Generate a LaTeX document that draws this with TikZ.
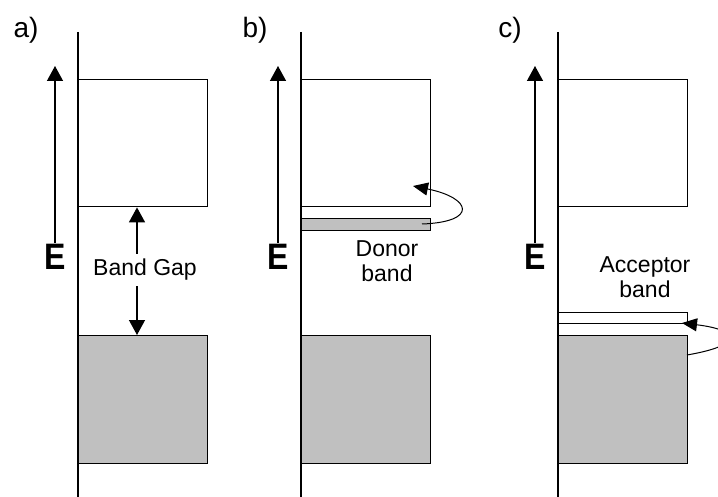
\documentclass[tikz,border=0pt]{standalone}
\usepackage{fontspec}
\setmainfont{Liberation Sans}
\usetikzlibrary{arrows.meta}
\definecolor{bandgray}{RGB}{192,192,192}
\begin{document}
\begin{tikzpicture}[x=1pt, y=-1pt, line width=1.4pt,
    band/.style={draw, minimum width=129pt, inner sep=0pt, anchor=north west},
    conduction/.style={band, minimum height=127pt},
    valence/.style={band, fill=bandgray, minimum height=128pt},
    label/.style={font=\fontsize{23}{25}\selectfont, align=center},
    tag/.style={font=\fontsize{28}{30}\selectfont},
    energy/.style={font=\bfseries\fontsize{32}{32}\selectfont, inner sep=1pt},
    tip/.style={-{Triangle[length=15pt,width=16pt]}},
    jump/.style={line width=1pt, -{Triangle[length=15pt,width=13pt]}}]
    \useasboundingbox (0,0) rectangle (718,497);
    \foreach \p/\x/\t/\tx in {a/78/a)/26, b/301/b)/255, c/558/c)/510} {
        \draw (\x,32) -- (\x,497);
        \node[tag] (tag \p) at (\tx,30) {\t};
        \node[energy] (E \p) at (\x-23,257) {\scalebox{1}[1.15]{E}};
        \coordinate (top \p) at (\x-23,66);
        \draw[tip] (E \p.north) -- (top \p);
        \node[conduction] (cb \p) at (\x,79) {};
        \node[valence] (vb \p) at (\x,335) {};
    }
    % a) intrinsic
    \node[label, inner sep=5pt] (gap) at (145,270) {Band Gap};
    \draw[tip] ([xshift=-8pt]gap.north) -- ([xshift=-8pt]gap.north |- cb a.south);
    \draw[tip] ([xshift=-8pt]gap.south) -- ([xshift=-8pt]gap.south |- vb a.north);
    % b) donor
    \node[band, fill=bandgray, minimum height=12pt] (donor) at (301,218) {};
    \node[label] (donor text) at (387,261) {Donor\\band};
    \coordinate (donor start) at (422,224);
    \coordinate (donor end) at (413,186);
    \draw[jump] (donor start) .. controls (478,222) and (472,198) .. (donor end);
    % c) acceptor
    \node[band, minimum height=11pt] (acceptor) at (558,312) {};
    \node[label] (acceptor text) at (645,277) {Acceptor\\band};
    \coordinate (acceptor start) at (687,355);
    \coordinate (acceptor end) at (682,323);
    \draw[jump] (acceptor start) .. controls (745,345) and (740,330) .. (acceptor end);
\end{tikzpicture}
\end{document}
